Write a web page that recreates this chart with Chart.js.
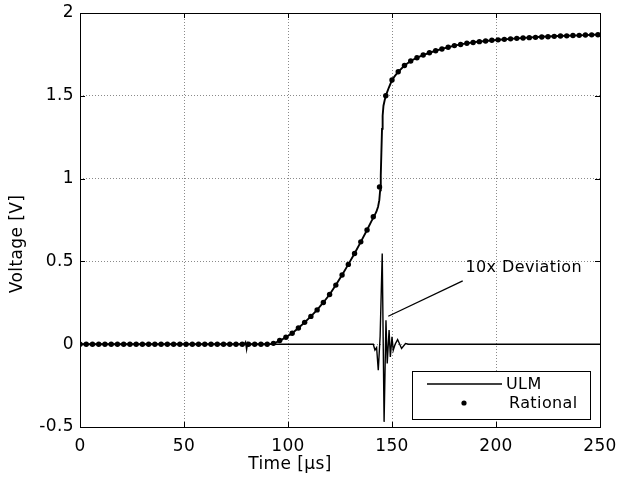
<!DOCTYPE html>
<html>
<head>
<meta charset="utf-8">
<script src="https://cdn.jsdelivr.net/npm/chart.js@4.4.1/dist/chart.umd.min.js"></script>
<style>
  html, body { margin: 0; padding: 0; background: #fff; }
  #wrap { width: 620px; height: 477px; position: relative; }
</style>
</head>
<body>
<div id="wrap"><canvas id="c" width="620" height="477"></canvas></div>
<script>
// ---------------- data ----------------
const ulmTimes = [0, 90, 92, 94, 96, 99, 102, 105, 108, 111, 114, 117, 120, 123, 126, 129, 132, 135, 138, 140, 141.5, 142.5, 143.3, 143.9, 144.3, 144.6, 144.9, 145.2, 145.5, 145.9, 146.5, 147.3, 148.5, 150, 151.5, 153, 156, 159, 162, 165, 168, 171, 174, 177, 180, 185, 190, 195, 200, 210, 220, 230, 240, 250];
const ulmValues = [0, 0, 0.002, 0.009, 0.02, 0.042, 0.066, 0.098, 0.132, 0.168, 0.207, 0.252, 0.300, 0.357, 0.418, 0.482, 0.548, 0.618, 0.69, 0.74, 0.775, 0.80, 0.83, 0.87, 0.93, 1.02, 1.16, 1.30, 1.38, 1.44, 1.475, 1.51, 1.55, 1.595, 1.622, 1.645, 1.683, 1.71, 1.73, 1.746, 1.76, 1.772, 1.783, 1.793, 1.803, 1.815, 1.825, 1.831, 1.837, 1.847, 1.855, 1.861, 1.865, 1.870];

const rationalTimes = [0, 3, 6, 9, 12, 15, 18, 21, 24, 27, 30, 33, 36, 39, 42, 45, 48, 51, 54, 57, 60, 63, 66, 69, 72, 75, 78, 81, 84, 87, 90, 93, 96, 99, 102, 105, 108, 111, 114, 117, 120, 123, 126, 129, 132, 135, 138, 141, 144, 147, 150, 153, 156, 159, 162, 165, 168, 171, 174, 177, 180, 183, 186, 189, 192, 195, 198, 201, 204, 207, 210, 213, 216, 219, 222, 225, 228, 231, 234, 237, 240, 243, 246, 249];
const rationalValues = [0, 0, 0, 0, 0, 0, 0, 0, 0, 0, 0, 0, 0, 0, 0, 0, 0, 0, 0, 0, 0, 0, 0, 0, 0, 0, 0, 0, 0, 0, 0,
  0.005, 0.022, 0.042, 0.066, 0.098, 0.132, 0.168, 0.207, 0.252, 0.300,
  0.357, 0.418, 0.482, 0.548, 0.618, 0.69, 0.77, 0.95, 1.50, 1.595,
  1.645, 1.683, 1.71, 1.73, 1.746, 1.76, 1.772, 1.783, 1.793, 1.803,
  1.81, 1.817, 1.822, 1.827, 1.831, 1.835, 1.838, 1.841, 1.844, 1.847,
  1.849, 1.851, 1.853, 1.855, 1.857, 1.859, 1.861, 1.862, 1.864, 1.865,
  1.867, 1.868, 1.869];

const devTimes = [0, 79, 79.6, 80.1, 80.6, 81.2, 141, 141.8, 142.6, 143.4, 144.3, 145.3, 146.2, 147.1, 147.7, 148.6, 149.2, 150, 150.6, 151.5, 152.7, 154.6, 156.5, 158, 250];
const devValues = [0, 0, 0.014, -0.032, 0.008, 0, 0, -0.035, -0.02, -0.157, 0.05, 0.548, -0.469, 0.145, -0.117, 0.085, -0.077, 0.044, -0.036, 0, 0.028, -0.026, 0.004, 0, 0];

const xTicks = [0, 50, 100, 150, 200, 250];
const yTicks = [-0.5, 0, 0.5, 1, 1.5, 2];

const seriesNames = ['ULM', 'Rational'];
const xTitle = 'Time [µs]';
const yTitle = 'Voltage [V]';
const annotationText = '10x Deviation';
const annotationArrowFrom = [148.2, 0.169];
const annotationArrowTo = [184, 0.382];
const annotationTextAt = [185.3, 0.459];

// ---------------- chart ----------------
const FONT = '"DejaVu Sans", Verdana, sans-serif';
const SPACING = '0.4px';

const zip = (xs, ys) => xs.map((x, i) => ({ x: x, y: ys[i] }));

const framePlugin = {
  id: 'frameAndText',
  beforeDraw(chart) {
    chart.ctx.letterSpacing = SPACING;
  },
  afterDraw(chart) {
    const ctx = chart.ctx;
    const a = chart.chartArea;
    const xs = chart.scales.x, ys = chart.scales.y;
    ctx.save();
    ctx.letterSpacing = '0px';
    // frame
    ctx.strokeStyle = '#000';
    ctx.lineWidth = 1;
    ctx.setLineDash([]);
    ctx.strokeRect(Math.round(a.left) + 0.5, Math.round(a.top) + 0.5,
                   Math.round(a.right - a.left), Math.round(a.bottom - a.top));
    // inward ticks
    const TL = 5;
    ctx.beginPath();
    xTicks.forEach(v => {
      const px = Math.round(xs.getPixelForValue(v)) + 0.5;
      ctx.moveTo(px, a.bottom); ctx.lineTo(px, a.bottom - TL);
      ctx.moveTo(px, a.top); ctx.lineTo(px, a.top + TL);
    });
    yTicks.forEach(v => {
      const py = Math.round(ys.getPixelForValue(v)) + 0.5;
      ctx.moveTo(a.left, py); ctx.lineTo(a.left + TL, py);
      ctx.moveTo(a.right, py); ctx.lineTo(a.right - TL, py);
    });
    ctx.stroke();

    // annotation
    ctx.beginPath();
    ctx.lineWidth = 1.3;
    ctx.moveTo(xs.getPixelForValue(annotationArrowFrom[0]), ys.getPixelForValue(annotationArrowFrom[1]));
    ctx.lineTo(xs.getPixelForValue(annotationArrowTo[0]), ys.getPixelForValue(annotationArrowTo[1]));
    ctx.stroke();
    ctx.letterSpacing = SPACING;
    ctx.fillStyle = '#000';
    ctx.font = '16px ' + FONT;
    ctx.textAlign = 'left';
    ctx.textBaseline = 'middle';
    ctx.fillText(annotationText, xs.getPixelForValue(annotationTextAt[0]), ys.getPixelForValue(annotationTextAt[1]));

    // legend box
    const lx = 412, ly = 371, lw = 178, lh = 48;
    ctx.letterSpacing = '0px';
    ctx.fillStyle = '#fff';
    ctx.fillRect(lx, ly, lw, lh);
    ctx.strokeStyle = '#000';
    ctx.lineWidth = 1;
    ctx.strokeRect(lx + 0.5, ly + 0.5, lw, lh);
    ctx.beginPath();
    ctx.lineWidth = 1.6;
    ctx.moveTo(427, 384); ctx.lineTo(502, 384);
    ctx.stroke();
    ctx.beginPath();
    ctx.fillStyle = '#000';
    ctx.arc(464, 403, 2.6, 0, Math.PI * 2);
    ctx.fill();
    ctx.letterSpacing = SPACING;
    ctx.font = '16px ' + FONT;
    ctx.textAlign = 'left';
    ctx.textBaseline = 'middle';
    ctx.fillText(seriesNames[0], 506, 385);
    ctx.fillText(seriesNames[1], 509, 404);

    // axis titles
    ctx.font = '17px ' + FONT;
    ctx.textAlign = 'center';
    ctx.fillText(xTitle, 290, 465);
    ctx.save();
    ctx.translate(18, 244);
    ctx.rotate(-Math.PI / 2);
    ctx.fillText(yTitle, 0, 0);
    ctx.restore();

    ctx.restore();
    ctx.letterSpacing = '0px';
  }
};

const zeroPad = s => { s.paddingLeft = 0; s.paddingRight = 0; s.paddingTop = 0; s.paddingBottom = 0; };

const chart = new Chart(document.getElementById('c'), {
  type: 'line',
  data: {
    datasets: [
      {
        label: seriesNames[0],
        data: zip(ulmTimes, ulmValues),
        borderColor: '#000',
        borderWidth: 1.9,
        pointRadius: 0,
        tension: 0,
        fill: false
      },
      {
        label: seriesNames[1],
        data: zip(rationalTimes, rationalValues),
        showLine: false,
        pointRadius: 2.7,
        pointBackgroundColor: '#000',
        pointBorderColor: '#000',
        pointBorderWidth: 0
      },
      {
        label: 'Deviation x10',
        data: zip(devTimes, devValues),
        borderColor: '#000',
        borderWidth: 1.4,
        pointRadius: 0,
        tension: 0,
        fill: false
      }
    ]
  },
  options: {
    responsive: false,
    animation: false,
    devicePixelRatio: 1,
    layout: { padding: { left: 0, top: 13, right: 20, bottom: 0 } },
    plugins: {
      legend: { display: false },
      tooltip: { enabled: false }
    },
    scales: {
      x: {
        type: 'linear',
        min: 0, max: 250,
        afterBuildTicks: s => { s.ticks = xTicks.map(v => ({ value: v })); },
        afterFit: s => { s.height = 50; zeroPad(s); },
        grid: { color: '#8a8a8a', lineWidth: 1, drawTicks: false },
        border: { display: false, dash: [1, 2] },
        ticks: { color: '#000', padding: 9, font: { family: FONT, size: 17 }, callback: v => String(v) }
      },
      y: {
        type: 'linear',
        min: -0.5, max: 2,
        afterBuildTicks: s => { s.ticks = yTicks.map(v => ({ value: v })); },
        afterFit: s => { s.width = 80; zeroPad(s); },
        grid: { color: '#8a8a8a', lineWidth: 1, drawTicks: false },
        border: { display: false, dash: [1, 2] },
        ticks: { color: '#000', padding: 6, font: { family: FONT, size: 17 }, callback: v => String(v) }
      }
    }
  },
  plugins: [framePlugin]
});
</script>
</body>
</html>
